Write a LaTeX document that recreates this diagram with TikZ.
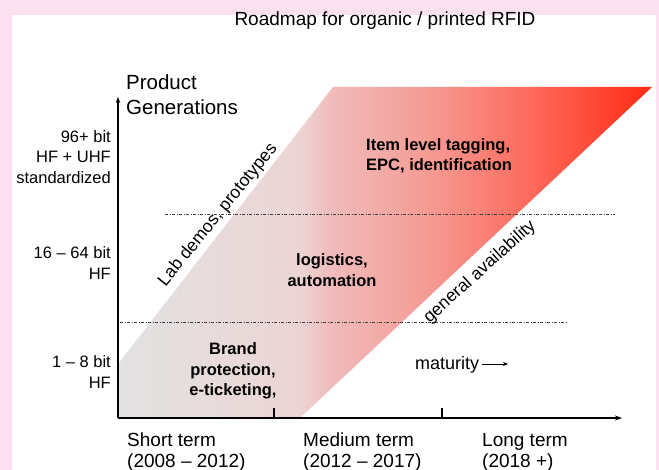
\documentclass[tikz,border=0pt]{standalone}
\usepackage{fontspec}
\setmainfont{Liberation Sans}
\usetikzlibrary{arrows.meta}

\definecolor{bgpink}{HTML}{FBE1F0}
\definecolor{shA}{HTML}{E2E2E2}
\definecolor{shB}{HTML}{ECD4D4}
\definecolor{shC}{HTML}{F0BCBC}
\definecolor{shD}{HTML}{F59A92}
\definecolor{shE}{HTML}{FD6A5C}
\definecolor{shF}{HTML}{FF2A12}
\pgfdeclarehorizontalshading{roadmapshade}{100bp}{color(0bp)=(shA); color(25bp)=(shA); color(42bp)=(shB); color(44.85bp)=(shC); color(54.2bp)=(shD); color(63.6bp)=(shE); color(75bp)=(shF); color(100bp)=(shF)}

\newcommand{\titlefont}{\fontsize{19}{23}\selectfont}
\newcommand{\genfont}{\fontsize{20.5}{25}\selectfont}
\newcommand{\labfont}{\fontsize{16.5}{20.5}\selectfont}
\newcommand{\axisfont}{\fontsize{19}{21}\selectfont}
\newcommand{\slantfont}{\fontsize{17.5}{20}\selectfont}

\begin{document}
\begin{tikzpicture}[x=1pt,y=-1pt]
\tikzstyle{every node}=[inner sep=0pt];
\tikzstyle{ylab}=[anchor=east,align=right,font=\labfont];
\tikzstyle{xlab}=[anchor=west,align=left,font=\axisfont];
\tikzstyle{field}=[align=center,font=\labfont\bfseries];
\tikzstyle{slant}=[font=\slantfont];
\tikzstyle{level}=[gray!50!black,line width=0.6pt,dash pattern=on 3pt off 1.5pt on 1pt off 1.5pt];

  \useasboundingbox (0,0) rectangle (659,470);
  \fill[bgpink] (0,0) rectangle (659,470);
  \fill[white] (12,15) rectangle (656,470);

  % the band
  \shade[shading=roadmapshade] (118,418) -- (118,364) -- (333,87) -- (652,87) -- (300,418) -- cycle;

  \coordinate (o) at (118,418);
  \coordinate (ytop) at (118,97);
  \coordinate (xend) at (622,418);
  \coordinate (hia) at (165,214);
  \coordinate (hib) at (615,214);
  \coordinate (loa) at (120,322);
  \coordinate (lob) at (567,322);

  \draw[level] (hia) -- (hib);
  \draw[level] (loa) -- (lob);

  \draw[line width=1.6pt,-{Stealth[length=6pt,width=4.5pt]}] (o) -- (ytop);
  \draw[line width=1.6pt,-{Stealth[length=7pt,width=5pt]}] (o) -- (xend);
  \foreach \x/\n in {274/ta,442/tb}{
    \coordinate (\n) at (\x,408);
    \draw[line width=1.6pt] (\n) -- (\n |- o);
  }

  \node (title) at (385,21) {\titlefont Roadmap for organic / printed RFID};
  \node[anchor=west,align=left,font=\genfont] (gen) at (126,95) {Product\\Generations};

  \node[ylab] (g3) at (111,157) {96+ bit\\HF + UHF\\standardized};
  \node[ylab] (g2) at (111,263) {16 -- 64 bit\\HF};
  \node[ylab] (g1) at (111,372) {1 -- 8 bit\\HF};

  \node[xlab] (short) at (127,452) {Short term\\(2008 -- 2012)};
  \node[xlab] (medium) at (303,452) {Medium term\\(2012 -- 2017)};
  \node[xlab] (long) at (482,452) {Long term\\(2018 +)};

  \node[field,anchor=west,align=left] (item) at (366,156) {Item level tagging,\\EPC, identification};
  \node[field] (logi) at (332,270) {logistics,\\automation};
  \node[field] (brand) at (233,371) {Brand\\protection,\\e-ticketing,};

  \node[slant,rotate=51] (lab) at (218,215) {Lab demos, prototypes};
  \node[slant,rotate=42] (avail) at (480,272) {general availability};

  \node[anchor=base west,font=\fontsize{18}{20}\selectfont] (mat) at (415,370) {maturity};
  \coordinate (matend) at (508,364);
  \draw[line width=0.8pt,-{Stealth[length=5pt,width=4pt]}] ([xshift=3pt]mat.east |- matend) -- (matend);

\end{tikzpicture}
\end{document}
